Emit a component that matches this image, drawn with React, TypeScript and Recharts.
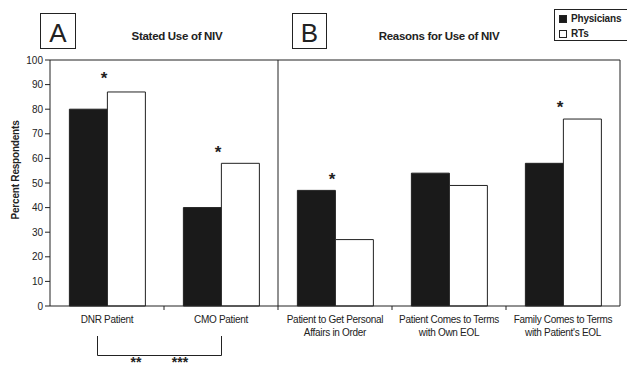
import React from 'react';
import { BarChart, Bar, Line, XAxis, YAxis, ReferenceLine, Legend } from 'recharts';

// values
const categories = [
    'DNR Patient',
    'CMO Patient',
    'Patient to Get Personal\nAffairs in Order',
    'Patient Comes to Terms\nwith Own EOL',
    "Family Comes to Terms\nwith Patient's EOL",
];
const physicians = [80, 40, 47, 54, 58];
const rts = [87, 58, 27, 49, 76];
// height where the significance star sits (null = no star)
const starLevels = [94, 64, 53, null, 82];
const yTicks = [0, 10, 20, 30, 40, 50, 60, 70, 80, 90, 100];

const data = categories.map((name, i) => ({
    name,
    physicians: physicians[i],
    rts: rts[i],
    star: starLevels[i],
}));

const FONT = '"Liberation Sans", Arial, sans-serif';
const INK = '#222';

const CategoryTick = (props: any) => {
    const { x, y, payload, index } = props;
    const lines = String(payload.value).split('\n');
    const half = payload.offset ?? 0;
    return (
        <g>
            {index > 0 && <line x1={x - half} x2={x - half} y1={y} y2={y + 4} stroke={INK} />}
            {lines.map((l, i) => (
                <text key={i} x={x} y={y + 16.5 + i * 13} textAnchor="middle" fontSize={10}
                    fontFamily={FONT} fill={INK} letterSpacing={-0.3}>{l}</text>
            ))}
        </g>
    );
};

const StarDot = (props: any) => {
    const { cx, cy, value, index } = props;
    if (value == null || cx == null) return <g key={`s-${index}`} />;
    return (
        <text key={`s-${index}`} x={cx - 3} y={cy + 9} textAnchor="middle" fontSize={17}
            fontWeight="bold" fontFamily={FONT} fill={INK}>*</text>
    );
};

const LegendBox = (props: any) => {
    const items = (props.payload || []).filter((p: any) => p.type !== 'none' && p.dataKey !== 'star');
    return (
        <div style={{ border: `1px solid ${INK}`, width: 80, height: 32, background: '#fff', boxSizing: 'border-box', paddingTop: 1 }}>
            {items.map((p: any) => (
                <div key={p.value} style={{ display: 'flex', alignItems: 'center', height: 15, paddingLeft: 4 }}>
                    <span style={{ width: 6, height: 6, border: `1px solid ${INK}`, background: p.color, marginRight: 4, flex: 'none' }} />
                    <span style={{ fontFamily: FONT, fontSize: 10, lineHeight: '12px', fontWeight: 'bold', color: INK, letterSpacing: -0.2 }}>{p.value}</span>
                </div>
            ))}
        </div>
    );
};

export default function App() {
    return (
        <div style={{ position: 'absolute', left: 0, top: 0, width: 627, height: 371, background: '#fff', overflow: 'hidden' }}>
            <BarChart width={627} height={371} data={data} margin={{ top: 60, right: 7, bottom: 0, left: 0 }}
                barCategoryGap="17%" barGap={0}>
                <XAxis dataKey="name" height={65} interval={0} tickLine={false} tickSize={0} tickMargin={0}
                    axisLine={{ stroke: INK }} tick={<CategoryTick />} />
                <YAxis width={50} domain={[0, 100]} ticks={yTicks} interval={0} tickSize={5}
                    axisLine={{ stroke: INK }} tickLine={{ stroke: INK }}
                    tick={{ fontSize: 10, fontFamily: FONT, fill: INK }} />
                <ReferenceLine y={100} stroke={INK} />
                <ReferenceLine x={categories[2]} position="start" stroke={INK} />
                <ReferenceLine x={categories[4]} position="end" stroke={INK} />
                <Bar dataKey="physicians" name="Physicians" fill="#1a1a1a" stroke={INK} isAnimationActive={false} />
                <Bar dataKey="rts" name="RTs" fill="#fff" stroke={INK} isAnimationActive={false} />
                <Line dataKey="star" stroke="none" legendType="none" dot={StarDot} activeDot={false}
                    isAnimationActive={false} />
                <Legend layout="horizontal" verticalAlign="middle" align="center" content={LegendBox}
                    wrapperStyle={{ position: 'absolute', left: 554, top: 9, width: 80, height: 32 }} />
            </BarChart>
            <svg width={627} height={371} style={{ position: 'absolute', left: 0, top: 0, pointerEvents: 'none' }}>
                <rect x={40.5} y={13.5} width={35} height={35} fill="none" stroke={INK} />
                <text x={58} y={42} textAnchor="middle" fontSize={26} fontFamily={FONT} fill={INK}>A</text>
                <rect x={292.5} y={13.5} width={34} height={35} fill="none" stroke={INK} />
                <text x={309.5} y={42} textAnchor="middle" fontSize={26} fontFamily={FONT} fill={INK}>B</text>
                <text x={177} y={40} textAnchor="middle" fontSize={11.5} fontWeight="bold" fontFamily={FONT}
                    fill={INK} letterSpacing={-0.3}>Stated Use of NIV</text>
                <text x={439} y={40} textAnchor="middle" fontSize={11.5} fontWeight="bold" fontFamily={FONT}
                    fill={INK} letterSpacing={-0.3}>Reasons for Use of NIV</text>
                <text transform="translate(19,170) rotate(-90)" textAnchor="middle" fontSize={10} fontWeight="bold"
                    fontFamily={FONT} fill={INK} letterSpacing={-0.2}>Percent Respondents</text>
                <path d="M97.5,336 V355.5 H221.5 V336" fill="none" stroke={INK} />
                <text x={136} y={367} textAnchor="middle" fontSize={14} fontWeight="bold" fontFamily={FONT} fill={INK}>**</text>
                <text x={180} y={367} textAnchor="middle" fontSize={14} fontWeight="bold" fontFamily={FONT} fill={INK}>***</text>
            </svg>
        </div>
    );
}
